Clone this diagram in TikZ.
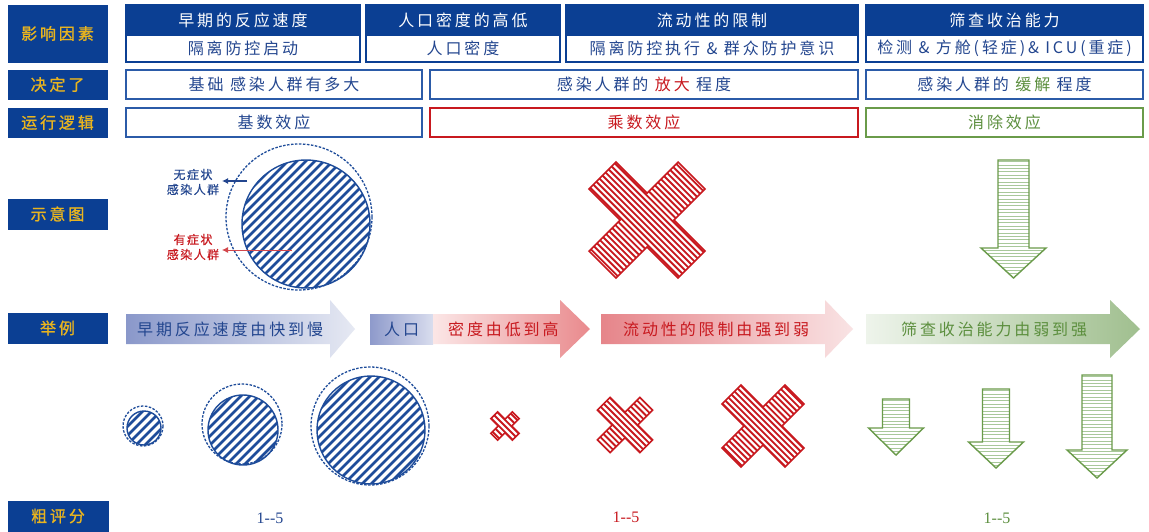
\documentclass[tikz,border=0pt]{standalone}
\usepackage{fontspec}
\usetikzlibrary{arrows.meta}
\newfontfamily\cjk[LetterSpace=18]{Noto Sans CJK SC}
\newfontfamily\cjkbold[LetterSpace=18,FakeBold=1]{Noto Sans CJK SC}
\newfontfamily\cjksmall[LetterSpace=12,FakeBold=0.5]{Noto Sans CJK SC}
\newfontfamily\numfont{Liberation Serif}
\newcommand\myfs{\cjk\fontsize{16}{19}\selectfont}
\newcommand\mybf{\cjkbold\fontsize{16}{19}\selectfont}
\newcommand\mysm{\cjksmall\fontsize{12}{15}\selectfont}
\definecolor{dblue}{HTML}{0B3F93}
\definecolor{gold}{HTML}{E9B41F}
\definecolor{tblue}{HTML}{23468F}
\definecolor{bblue}{HTML}{2B5BA8}
\definecolor{hblue}{HTML}{1E4C9A}
\definecolor{cred}{HTML}{C8191F}
\definecolor{cgreen}{HTML}{6A9B4A}
\definecolor{lgreen}{HTML}{A8C89A}
\definecolor{tgreen}{HTML}{5C8F3E}
\definecolor{ga1}{HTML}{8A98CA}
\definecolor{ga2}{HTML}{E6E9F3}
\definecolor{gb1}{HTML}{8E9ACB}
\definecolor{gb2}{HTML}{D9DDEE}
\definecolor{gc1}{HTML}{FBE6E6}
\definecolor{gc2}{HTML}{E98A8D}
\definecolor{gd1}{HTML}{E6858A}
\definecolor{gd2}{HTML}{F9E3E4}
\definecolor{ge1}{HTML}{EEF4EB}
\definecolor{ge2}{HTML}{A0BF8F}
\tikzset{
  lab/.style={fill=dblue,draw=dblue,text=gold,font=\mybf,inner sep=0pt},
  hdtop/.style={fill=dblue,draw=dblue,line width=1.2pt,text=white,font=\myfs,inner sep=0pt},
  hdbot/.style={fill=white,draw=dblue,line width=1.5pt,text=tblue,font=\myfs,inner sep=0pt},
  rowbox/.style={fill=white,draw=bblue,line width=1.6pt,text=tblue,font=\myfs,inner sep=0pt},
  hatchline/.style={hblue,line width=2.8pt},
  circline/.style={hblue,line width=1.4pt},
  dashcirc/.style={hblue,line width=1.3pt,dash pattern=on 2.5pt off 1.5pt},
  xline/.style={cred,line width=1.9pt},
  xout/.style={cred,line width=1.6pt,line join=miter},
  gline/.style={lgreen,line width=1pt},
  gout/.style={cgreen,line width=1.4pt,line join=miter},
  etext/.style={font=\myfs,inner sep=0pt,anchor=west},
  score/.style={font=\numfont\fontsize{16}{18}\selectfont,inner sep=0pt}
}
\newcommand\hcirc[3]{%
  \begin{scope}
    \clip (#1,#2) circle[radius=#3];
    \pgfmathtruncatemacro\nn{#3*1.4142/9+1}
    \foreach \k in {-\nn,...,\nn}{
      \draw[hatchline] ({#1+\k*9-#3-2},{#2+#3+2}) -- ++({2*#3+4},{-2*#3-4});
    }
  \end{scope}
  \draw[circline] (#1,#2) circle[radius=#3];
}
\newcommand\xcross[4]{%
  \pgfmathsetmacro\ca{#4/2}\pgfmathsetmacro\cb{#3/2}%
  \pgfmathtruncatemacro\nn{(#3+#4)/(6.1)+1}%
  \begin{scope}
    \clip[shift={(#1,#2)},rotate=45] (\ca,\cb) -- (\ca,\ca) -- (\cb,\ca) -- (\cb,-\ca) -- (\ca,-\ca) -- (\ca,-\cb) -- (-\ca,-\cb) -- (-\ca,-\ca) -- (-\cb,-\ca) -- (-\cb,\ca) -- (-\ca,\ca) -- (-\ca,\cb) -- cycle;
    \foreach \k in {-\nn,...,\nn}{
      \draw[xline] ({#1+\k*6.1-#3},{#2-#3}) -- ++({2*#3},{2*#3});
    }
  \end{scope}
  \draw[xout,shift={(#1,#2)},rotate=45] (\ca,\cb) -- (\ca,\ca) -- (\cb,\ca) -- (\cb,-\ca) -- (\ca,-\ca) -- (\ca,-\cb) -- (-\ca,-\cb) -- (-\ca,-\ca) -- (-\cb,-\ca) -- (-\cb,\ca) -- (-\ca,\ca) -- (-\ca,\cb) -- cycle;
}
\newcommand\garrow[6]{%
  \begin{scope}
    \clip ({#1-#2},#3) -- ({#1+#2},#3) -- ({#1+#2},#4) -- ({#1+#5},#4) -- (#1,#6) -- ({#1-#5},#4) -- ({#1-#2},#4) -- cycle;
    \pgfmathtruncatemacro\nn{(#6-#3)/3.4+1}
    \foreach \k in {0,...,\nn}{
      \draw[gline] ({#1-#5-1},{#3+1.7+\k*3.4}) -- ({#1+#5+1},{#3+1.7+\k*3.4});
    }
  \end{scope}
  \draw[gout] ({#1-#2},#3) -- ({#1+#2},#3) -- ({#1+#2},#4) -- ({#1+#5},#4) -- (#1,#6) -- ({#1-#5},#4) -- ({#1-#2},#4) -- cycle;
}
\newcommand\barrow[5]{%
  \shade[left color=#4,right color=#5] (#1,314) -- (#2,314) -- (#2,300) -- (#3,329) -- (#2,358) -- (#2,344) -- (#1,344) -- cycle;
}
\begin{document}
\begin{tikzpicture}[x=1pt,y=-1pt]
\useasboundingbox[fill=white] (0,0) rectangle (1149,531);

% left labels
\node[lab,minimum width=99pt,minimum height=57pt] (l1) at (57.5,33.5) {影响因素};
\node[lab,minimum width=99pt,minimum height=29pt] (l2) at (57.5,84.5) {决定了};
\node[lab,minimum width=99pt,minimum height=29pt] (l3) at (57.5,122.5) {运行逻辑};
\node[lab,minimum width=99pt,minimum height=30pt] (l4) at (57.5,214) {示意图};
\node[lab,minimum width=99pt,minimum height=30pt] (l5) at (57.5,328) {举例};
\node[lab,minimum width=100pt,minimum height=30pt] (l6) at (58,516) {粗评分};

% header columns
\node[hdtop,minimum width=234pt,minimum height=30pt] (h1) at (243,20) {早期的反应速度};
\node[hdbot,minimum width=234pt,minimum height=27pt] (h1b) at (243,48.5) {隔离防控启动};
\node[hdtop,minimum width=194pt,minimum height=30pt] (h2) at (463,20) {人口密度的高低};
\node[hdbot,minimum width=194pt,minimum height=27pt] (h2b) at (463,48.5) {人口密度};
\node[hdtop,minimum width=292pt,minimum height=30pt] (h3) at (712,20) {流动性的限制};
\node[hdbot,minimum width=292pt,minimum height=27pt] (h3b) at (712,48.5) {隔离防控执行 \& 群众防护意识};
\node[hdtop,minimum width=277pt,minimum height=30pt] (h4) at (1004.5,20) {筛查收治能力};
\node[hdbot,minimum width=277pt,minimum height=27pt] (h4b) at (1004.5,48.5) {检测 \& 方舱(轻症)\& ICU(重症)};

% row 决定了
\node[rowbox,minimum width=296pt,minimum height=29pt] (r1) at (274,84.5) {基础 感染人群有多大};
\node[rowbox,minimum width=428pt,minimum height=29pt] (r2) at (644,84.5) {感染人群的 {\color{cred}放大} 程度};
\node[rowbox,minimum width=277pt,minimum height=29pt] (r3) at (1004.5,84.5) {感染人群的 {\color{tgreen}缓解} 程度};

% row 运行逻辑
\node[rowbox,minimum width=296pt,minimum height=29pt] (e1) at (274,122.5) {基数效应};
\node[rowbox,draw=cred,text=cred,minimum width=428pt,minimum height=29pt] (e2) at (644,122.5) {乘数效应};
\node[rowbox,draw=cgreen,text=tgreen,minimum width=277pt,minimum height=29pt] (e3) at (1004.5,122.5) {消除效应};

% 示意图 row
\draw[dashcirc] (299,217) circle[radius=73];
\hcirc{306}{224}{64}
\node[font=\mysm,text=tblue,align=center,inner sep=0pt] (asym) at (193,182) {无症状\\感染人群};
\node[font=\mysm,text=cred,align=center,inner sep=0pt] (sym) at (193,247) {有症状\\感染人群};
\coordinate (asymS) at (247,181);
\coordinate (asymE) at (222,181);
\coordinate (symS) at (292,250);
\coordinate (symE) at (222,250);
\draw[tblue,line width=1.2pt,-{Latex[length=6pt,width=6pt]}] (asymS) -- (asymE);
\draw[cred!80,line width=0.8pt,-{Latex[length=6pt,width=6pt]}] (symS) -- (symE);

\xcross{647}{220}{126}{38}
\garrow{1013.5}{15.5}{160}{248}{32.5}{278}

% 举例 arrows
\barrow{126}{330}{355}{ga1}{ga2}
\shade[left color=gb1,right color=gb2] (370,314) rectangle (433,344);
\barrow{433}{560}{590}{gc1}{gc2}
\barrow{601}{825}{853}{gd1}{gd2}
\barrow{866}{1110}{1140}{ge1}{ge2}
\node[etext,text=tblue] (x1) at (137,329) {早期反应速度由快到慢};
\node[etext,text=tblue] (x2a) at (384,329) {人口};
\node[etext,text=cred] (x2b) at (448,329) {密度由低到高};
\node[etext,text=cred] (x3) at (623,329) {流动性的限制由强到弱};
\node[etext,text=tgreen] (x4) at (901,329) {筛查收治能力由弱到强};

% bottom examples: circles
\draw[dashcirc] (143,426) circle[radius=20];
\hcirc{144}{428}{17}
\draw[dashcirc] (242,424) circle[radius=40];
\hcirc{243}{430}{35}
\draw[dashcirc] (370,426) circle[radius=59];
\hcirc{371}{430}{54}

% bottom crosses
\xcross{505}{426}{30.5}{9.5}
\xcross{625}{425}{60}{18}
\xcross{763}{426}{89}{27}

% bottom green arrows
\garrow{896}{13.5}{399}{428}{27.5}{455}
\garrow{996}{13.5}{389}{442}{27.5}{468}
\garrow{1097}{15}{375}{450}{30}{478}

% scores
\node[score,text=tblue] (s1) at (270,518) {1-\kern0pt-5};
\node[score,text=cred] (s2) at (626,517) {1-\kern0pt-5};
\node[score,text=tgreen] (s3) at (997,518) {1-\kern0pt-5};
\end{tikzpicture}
\end{document}
